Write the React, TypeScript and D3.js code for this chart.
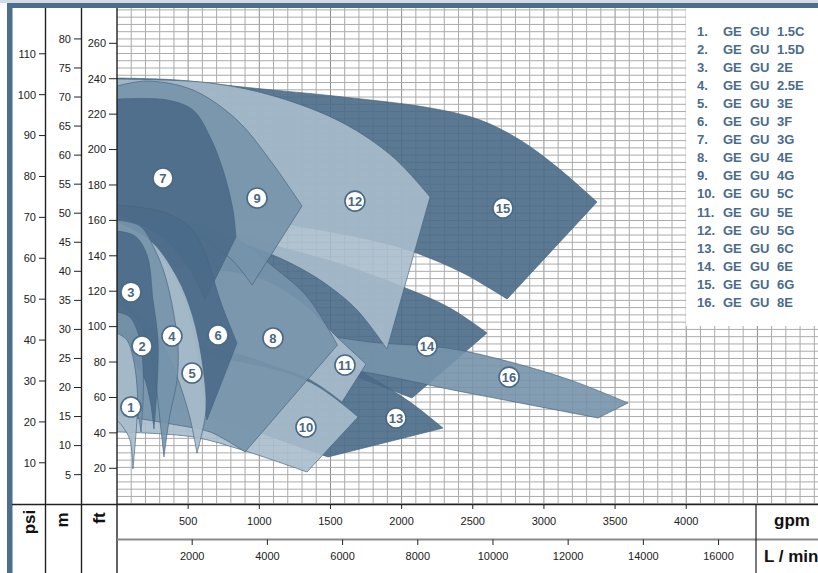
import React from "react";
import * as d3 from "d3";

type Pt = [number, number];

const W = 818;
const H = 573;

// axis ticks
const gpmTicks = [500, 1000, 1500, 2000, 2500, 3000, 3500, 4000];
const lminTicks = [2000, 4000, 6000, 8000, 10000, 12000, 14000, 16000];
const psiTicks = [10, 20, 30, 40, 50, 60, 70, 80, 90, 100, 110];
const mTicks = [5, 10, 15, 20, 25, 30, 35, 40, 45, 50, 55, 60, 65, 70, 75, 80];
const ftTicks = [20, 40, 60, 80, 100, 120, 140, 160, 180, 200, 220, 240, 260];

const models = [
  "1.5C", "1.5D", "2E", "2.5E", "3E", "3F", "3G", "4E",
  "4G", "5C", "5E", "5G", "6C", "6E", "6G", "8E",
];

// pump coverage areas: [max-impeller curve, min-impeller curve (reversed)] in [gpm, ft]
const pump1: Pt[][] = [
  [[0, 96.4], [70, 92.4], [112, 82.8], [141, 65.9], [141, 49.0], [112, 19.6]],
  [[112, 19.6], [91, 36.0], [42, 43.3], [0, 47.3]],
];
const pump2: Pt[][] = [
  [[0, 108.3], [91, 105.4], [162, 92.4], [183, 77.2], [183, 58.6], [169, 40.5]],
  [[169, 40.5], [141, 52.9], [91, 63.1], [0, 69.9]],
];
const pump3: Pt[][] = [
  [[0, 154.0], [126, 151.2], [211, 140.4], [253, 115.0], [288, 92.4], [281, 65.9], [260, 42.2]],
  [[260, 42.2], [232, 58.6], [183, 72.7], [91, 82.3], [0, 86.8]],
];
const pump4: Pt[][] = [
  [[0, 160.2], [162, 156.8], [267, 143.3], [337, 129.1], [394, 109.4], [429, 88.5], [422, 69.9], [372, 50.1], [330, 26.4]],
  [[330, 26.4], [302, 47.3], [274, 67.0], [232, 86.8], [148, 103.7], [0, 115.0]],
];
const pump5: Pt[][] = [
  [[0, 159.1], [232, 148.9], [422, 128.0], [534, 105.4], [604, 77.2], [625, 52.9], [562, 28.6]],
  [[562, 28.6], [513, 48.4], [443, 67.0], [358, 84.0], [232, 100.9], [0, 120.7]],
];
const pump6: Pt[][] = [
  [[0, 168.7], [337, 164.5], [527, 154.8], [632, 138.7], [724, 115.0], [843, 90.7]],
  [[632, 47.3], [583, 77.2], [513, 105.4], [408, 128.0], [232, 146.1], [0, 155.7]],
];
const pump7: Pt[][] = [
  [[0, 228.5], [351, 228.0], [534, 222.3], [654, 207.1], [745, 188.4], [815, 165.9], [836, 150.6]],
  [[618, 115.0], [478, 136.5], [302, 151.7], [0, 163.0]],
];
const pump8: Pt[][] = [
  [[0, 163.0], [513, 159.1], [832, 150.0], [1100, 133.7], [1338, 116.7], [1549, 89.6]],
  [[900, 29.2], [654, 40.5], [422, 44.4], [0, 50.1]],
];
const pump9: Pt[][] = [
  [[0, 235.9], [211, 238.7], [534, 233.6], [843, 216.7], [1075, 194.1], [1300, 168.1]],
  [[949, 123.5], [794, 138.7], [513, 153.4], [0, 164.7]],
];
const pump10: Pt[][] = [
  [[0, 86.8], [815, 81.1], [1356, 68.7], [1694, 49.0]],
  [[1335, 17.9], [900, 29.8], [534, 37.7], [0, 40.5]],
];
const pump11: Pt[][] = [
  [[0, 136.5], [583, 133.1], [1005, 127.5], [1307, 113.3], [1546, 94.1], [1750, 78.9]],
  [[1581, 57.4], [1356, 69.9], [1075, 78.3], [815, 85.1], [0, 98.1]],
];
const pump12: Pt[][] = [
  [[0, 239.8], [654, 237.6], [1124, 229.7], [1588, 215.0], [1940, 195.8], [2200, 173.2]],
  [[1897, 87.4], [1687, 109.4], [1497, 122.4], [1286, 133.1], [1005, 143.3], [583, 153.4], [0, 161.3]],
];
const pump13: Pt[][] = [
  [[0, 115.0], [935, 100.9], [1497, 84.0], [1813, 69.9], [2059, 57.4], [2291, 42.7]],
  [[1483, 26.4], [1145, 36.0], [724, 47.3], [0, 61.4]],
];
const pump14: Pt[][] = [
  [[0, 171.5], [583, 159.1], [1096, 146.1], [1567, 135.4], [2010, 122.4], [2340, 110.5], [2600, 96.4]],
  [[2073, 59.7], [1708, 71.0], [1286, 84.0], [794, 98.1], [0, 115.0]],
];
const pump15: Pt[][] = [
  [[0, 240.4], [422, 239.3], [885, 235.3], [1588, 229.7], [2200, 223.5], [2551, 216.7], [2832, 205.4], [3092, 190.1], [3373, 170.4]],
  [[2741, 115.6], [2431, 130.3], [2080, 142.3], [1848, 147.8], [1145, 158.5], [583, 164.7], [0, 168.7]],
];
const pump16: Pt[][] = [
  [[935, 100.9], [1356, 96.4], [1778, 91.3], [2319, 87.9], [2713, 81.1], [3184, 69.9], [3591, 56.9]],
  [[3380, 48.4], [2832, 56.9], [2361, 64.2], [1778, 73.8], [1286, 79.5], [935, 82.3]],
];

// label positions [gpm, ft]
const labelPos: Pt[] = [
  [98, 54.6], [176, 89.1], [98, 119.5], [386, 94.7], [527, 73.8], [710, 95.3],
  [323, 183.9], [1096, 93.6], [984, 172.6], [1328, 43.3], [1602, 78.3],
  [1672, 170.9], [1961, 48.4], [2178, 89.1], [2712, 167.0], [2755, 71.5],
];

const pumps = [pump1, pump2, pump3, pump4, pump5, pump6, pump7, pump8,
  pump9, pump10, pump11, pump12, pump13, pump14, pump15, pump16];
const tones = ["light", "medium", "dark", "medium", "light", "dark", "dark", "medium",
  "medium", "light", "light", "light", "dark", "dark", "dark", "medium"];
const drawOrder = [15, 14, 16, 13, 12, 11, 10, 8, 9, 7, 6, 5, 4, 3, 2, 1];

const fills: Record<string, string> = {
  dark: "#4a6a88",
  medium: "#7693ab",
  light: "#a9bccb",
};

const x = d3.scaleLinear().domain([0, 4926]).range([117, 818]);
const y = d3.scaleLinear().domain([0, 280]).range([503.7, 7.9]);
const yPsi = d3.scaleLinear().domain([0, 280 / 2.31]).range([503.7, 7.9]);
const yM = d3.scaleLinear().domain([0, 280 / 3.281]).range([503.7, 7.9]);
const xL = d3.scaleLinear().domain([0, 4926 * 3.785]).range([117, 818]);

function shapeD(edges: Pt[][]): string {
  const p = d3.path();
  let started = false;
  const ctx: any = {
    moveTo: (a: number, b: number) => {
      if (started) p.lineTo(a, b);
      else { p.moveTo(a, b); started = true; }
    },
    lineTo: (a: number, b: number) => p.lineTo(a, b),
    bezierCurveTo: (a: number, b: number, c: number, d: number, e: number, f: number) =>
      p.bezierCurveTo(a, b, c, d, e, f),
    quadraticCurveTo: (a: number, b: number, c: number, d: number) => p.quadraticCurveTo(a, b, c, d),
    closePath: () => {},
    arc: () => {},
    rect: () => {},
  };
  const line = d3.line<Pt>()
    .x((d) => x(d[0]))
    .y((d) => y(d[1]))
    .curve(d3.curveCatmullRom.alpha(0.5))
    .context(ctx);
  edges.forEach((e) => line(e));
  p.closePath();
  return p.toString();
}

const FONT = "'Liberation Sans', Arial, sans-serif";

export default function App() {
  const plotL = 117, plotR = 818, plotT = 8, plotB = 504;
  const vGrid = d3.range(100, 4926, 100);
  const hGrid = d3.range(0, 280, 4.101);

  return (
    <svg width={W} height={H} style={{ position: "absolute", left: 0, top: 0, background: "#fff" }}
      fontFamily={FONT}>
      <defs>
        <clipPath id="plotClip">
          <rect x={plotL} y={plotT} width={plotR - plotL} height={plotB - plotT} />
        </clipPath>
      </defs>
      <rect x={0} y={0} width={W} height={H} fill="#fff" />

      {/* grid */}
      <g clipPath="url(#plotClip)">
        {vGrid.map((g) => (
          <line key={"v" + g} x1={x(g)} x2={x(g)} y1={plotT} y2={plotB}
            stroke={g % 500 === 0 ? "#8e8e8e" : "#ababab"} strokeWidth={1} />
        ))}
        {hGrid.map((f, i) => (
          <line key={"h" + i} x1={plotL} x2={plotR} y1={y(f)} y2={y(f)}
            stroke="#ababab" strokeWidth={1} />
        ))}
      </g>

      {/* pump areas */}
      <g clipPath="url(#plotClip)">
        {drawOrder.map((n) => (
          <path key={"p" + n} d={shapeD(pumps[n - 1])} fill={fills[tones[n - 1]]}
            fillOpacity={0.9} stroke="#46647f" strokeOpacity={0.75} strokeWidth={0.9}
            strokeLinejoin="round" />
        ))}
      </g>

      {/* labels */}
      {labelPos.map((p, i) => (
        <g key={"l" + i} transform={`translate(${x(p[0])},${y(p[1])})`}>
          <circle r={10} fill="#fff" stroke="#4b6984" strokeWidth={1.6} />
          <text textAnchor="middle" dy="0.36em" fontSize={13} fontWeight="bold" fill="#4a6783">
            {i + 1}
          </text>
        </g>
      ))}

      {/* legend */}
      <rect x={686} y={8} width={132} height={318} fill="#fff" />
      {models.map((m, i) => {
        const by = 35.5 + i * 18.1;
        return (
          <g key={"lg" + i} fontSize={13} fontWeight="bold" fill="#4a6b8c">
            <text x={697} y={by}>{`${i + 1}.`}</text>
            <text x={723} y={by}>GE</text>
            <text x={750} y={by}>GU</text>
            <text x={777} y={by}>{m}</text>
          </g>
        );
      })}

      {/* frame */}
      <rect x={0} y={0} width={W} height={3} fill="#d3dce4" />
      <rect x={7} y={3} width={W - 7} height={5} fill="#4c6d8c" />
      <rect x={7} y={3} width={5.5} height={H - 3} fill="#4c6d8c" />

      {/* separators */}
      {[45.5, 81.5, 117].map((sx) => (
        <line key={"s" + sx} x1={sx} x2={sx} y1={8} y2={H} stroke="#222" strokeWidth={1.4} />
      ))}
      <line x1={12} x2={W} y1={504.5} y2={504.5} stroke="#222" strokeWidth={1.4} />
      <line x1={117} x2={W} y1={539.5} y2={539.5} stroke="#8a8a8a" strokeWidth={2} />
      <line x1={756} x2={756} y1={504} y2={H} stroke="#222" strokeWidth={1.2} />

      {/* psi axis */}
      {psiTicks.map((t) => (
        <g key={"psi" + t}>
          <line x1={39} x2={45.5} y1={yPsi(t)} y2={yPsi(t)} stroke="#222" strokeWidth={1} />
          <text x={36} y={yPsi(t)} dy="0.35em" textAnchor="end" fontSize={11} fill="#222">{t}</text>
        </g>
      ))}
      {/* m axis */}
      {mTicks.map((t) => (
        <g key={"m" + t}>
          <line x1={74} x2={81.5} y1={yM(t)} y2={yM(t)} stroke="#222" strokeWidth={1} />
          <text x={71} y={yM(t)} dy="0.35em" textAnchor="end" fontSize={11} fill="#222">{t}</text>
        </g>
      ))}
      {/* ft axis */}
      {ftTicks.map((t) => (
        <g key={"ft" + t}>
          <line x1={109} x2={117} y1={y(t)} y2={y(t)} stroke="#222" strokeWidth={1} />
          <text x={106} y={y(t)} dy="0.35em" textAnchor="end" fontSize={11} fill="#222">{t}</text>
        </g>
      ))}

      {/* unit labels */}
      <text transform="translate(29,522) rotate(-90)" textAnchor="middle" dy="0.35em"
        fontSize={17} fontWeight="bold" fill="#111">psi</text>
      <text transform="translate(62,520) rotate(-90)" textAnchor="middle" dy="0.35em"
        fontSize={17} fontWeight="bold" fill="#111">m</text>
      <text transform="translate(99,518) rotate(-90)" textAnchor="middle" dy="0.35em"
        fontSize={17} fontWeight="bold" fill="#111">ft</text>

      {/* gpm axis */}
      {gpmTicks.map((t) => (
        <g key={"g" + t}>
          <line x1={x(t)} x2={x(t)} y1={504.5} y2={509} stroke="#222" strokeWidth={1} />
          <text x={x(t)} y={525} textAnchor="middle" fontSize={11} fill="#222">{t}</text>
        </g>
      ))}
      {/* L/min axis */}
      {lminTicks.map((t) => (
        <g key={"lm" + t}>
          <line x1={xL(t)} x2={xL(t)} y1={539.5} y2={545} stroke="#222" strokeWidth={1} />
          <text x={xL(t)} y={560} textAnchor="middle" fontSize={11} fill="#222">{t}</text>
        </g>
      ))}
      <text x={792} y={526} textAnchor="middle" fontSize={17} fontWeight="bold" fill="#111">gpm</text>
      <text x={764} y={562} fontSize={17} fontWeight="bold" fill="#111">L / min</text>
    </svg>
  );
}
